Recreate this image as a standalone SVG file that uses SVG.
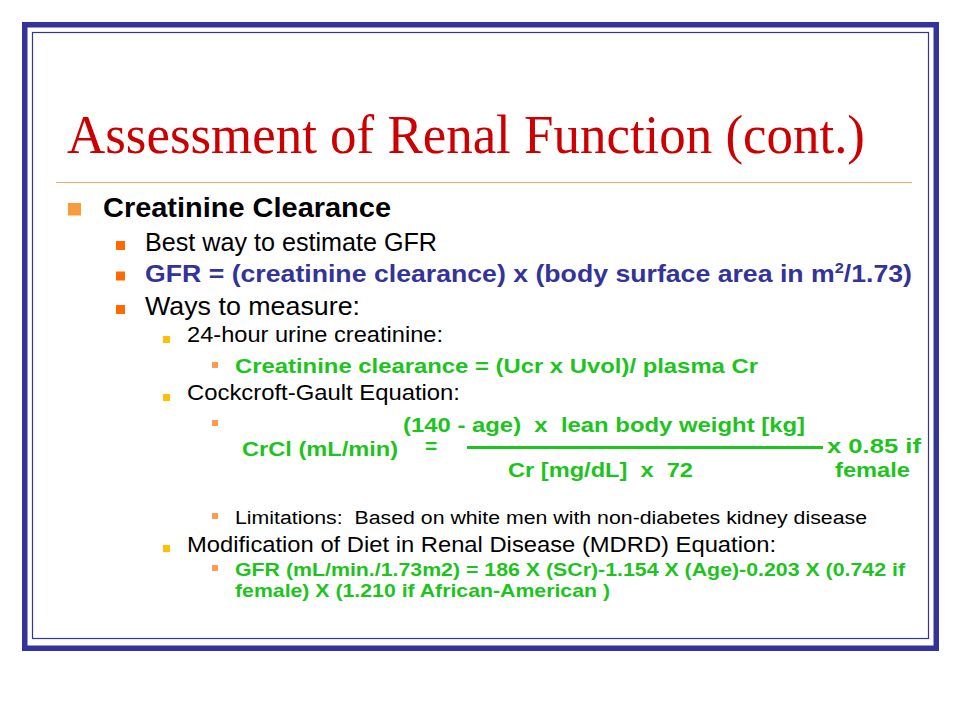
<svg xmlns="http://www.w3.org/2000/svg" width="960" height="720" viewBox="0 0 960 720">
<style>
.t{font-family:"Liberation Serif","Times New Roman",serif;fill:#CC0000}
.s{font-family:"Liberation Sans",Arial,sans-serif}
.k{fill:#000}
.b{font-weight:bold}
.g{fill:#1DC41D;font-weight:bold}
.bl{fill:#333399;font-weight:bold}
</style>
<rect width="960" height="720" fill="#fff"/>
<g id="frame">
<rect x="24.75" y="24.75" width="911.5" height="623.5" fill="none" stroke="#333399" stroke-width="5.5"/>
<rect x="32.5" y="32.5" width="896" height="606" fill="none" stroke="#333399" stroke-width="1.2"/>
</g>
<g id="title">
<text class="t" x="67" y="153" font-size="55" textLength="798" lengthAdjust="spacingAndGlyphs">Assessment of Renal Function (cont.)</text>
<line x1="56" y1="182.5" x2="912" y2="182.5" stroke="#F0A868" stroke-width="1.2"/>
</g>
<g id="bullets">
<rect x="68" y="203" width="13" height="12.5" fill="#F89B3C"/>
<rect x="116" y="241" width="9" height="9" fill="#FF6A00"/>
<rect x="116" y="271.5" width="9" height="9" fill="#FF6A00"/>
<rect x="116" y="305" width="9" height="9" fill="#FF6A00"/>
<rect x="163" y="336" width="7" height="7" fill="#FFC000"/>
<rect x="163" y="394" width="7" height="7" fill="#FFC000"/>
<rect x="163" y="545" width="7" height="7" fill="#FFC000"/>
<rect x="212" y="362" width="6" height="6" fill="#FF9955"/>
<rect x="212" y="420" width="6" height="6" fill="#FF9955"/>
<rect x="212" y="513" width="6" height="6" fill="#FF9955"/>
<rect x="212" y="565" width="6" height="6" fill="#FF9955"/>
</g>
<g id="text">
<text class="s k b" x="103" y="217" font-size="27" textLength="288" lengthAdjust="spacingAndGlyphs">Creatinine Clearance</text>
<text class="s k" x="145" y="251" font-size="25" textLength="292" lengthAdjust="spacingAndGlyphs">Best way to estimate GFR</text>
<text class="s bl" x="145" y="282" font-size="24.5" textLength="767" lengthAdjust="spacingAndGlyphs">GFR = (creatinine clearance) x (body surface area in m<tspan font-size="15" dy="-9">2</tspan><tspan dy="9">/1.73)</tspan></text>
<text class="s k" x="145" y="315" font-size="25.5" textLength="215" lengthAdjust="spacingAndGlyphs">Ways to measure:</text>
<text class="s k" x="187" y="342" font-size="22" textLength="256" lengthAdjust="spacingAndGlyphs">24-hour urine creatinine:</text>
<text class="s g" x="235" y="373" font-size="21" textLength="523" lengthAdjust="spacingAndGlyphs">Creatinine clearance = (Ucr x Uvol)/ plasma Cr</text>
<text class="s k" x="187" y="400" font-size="22" textLength="273" lengthAdjust="spacingAndGlyphs">Cockcroft-Gault Equation:</text>
<text class="s k" x="235" y="524" font-size="18" textLength="632" lengthAdjust="spacingAndGlyphs" xml:space="preserve">Limitations:  Based on white men with non-diabetes kidney disease</text>
<text class="s k" x="187" y="552" font-size="22" textLength="589" lengthAdjust="spacingAndGlyphs">Modification of Diet in Renal Disease (MDRD) Equation:</text>
<text class="s g" x="235" y="576" font-size="19" textLength="670" lengthAdjust="spacingAndGlyphs">GFR (mL/min./1.73m2) = 186 X (SCr)-1.154 X (Age)-0.203 X (0.742 if</text>
<text class="s g" x="235" y="597" font-size="19" textLength="375" lengthAdjust="spacingAndGlyphs">female) X (1.210 if African-American )</text>
</g>
<g id="formula">
<text class="s g" x="403" y="432" font-size="21" textLength="402" lengthAdjust="spacingAndGlyphs" xml:space="preserve">(140 - age)  x  lean body weight [kg]</text>
<text class="s g" x="242" y="456" font-size="21" textLength="156" lengthAdjust="spacingAndGlyphs">CrCl (mL/min)</text>
<text class="s g" x="425" y="453" font-size="21">=</text>
<line x1="467" y1="447.5" x2="823" y2="447.5" stroke="#1DC41D" stroke-width="3"/>
<text class="s g" x="508" y="477" font-size="21" textLength="185" lengthAdjust="spacingAndGlyphs" xml:space="preserve">Cr [mg/dL]  x  72</text>
<text class="s g" x="827" y="453" font-size="21" textLength="94" lengthAdjust="spacingAndGlyphs">x 0.85 if</text>
<text class="s g" x="835" y="477" font-size="21" textLength="75" lengthAdjust="spacingAndGlyphs">female</text>
</g>
</svg>
